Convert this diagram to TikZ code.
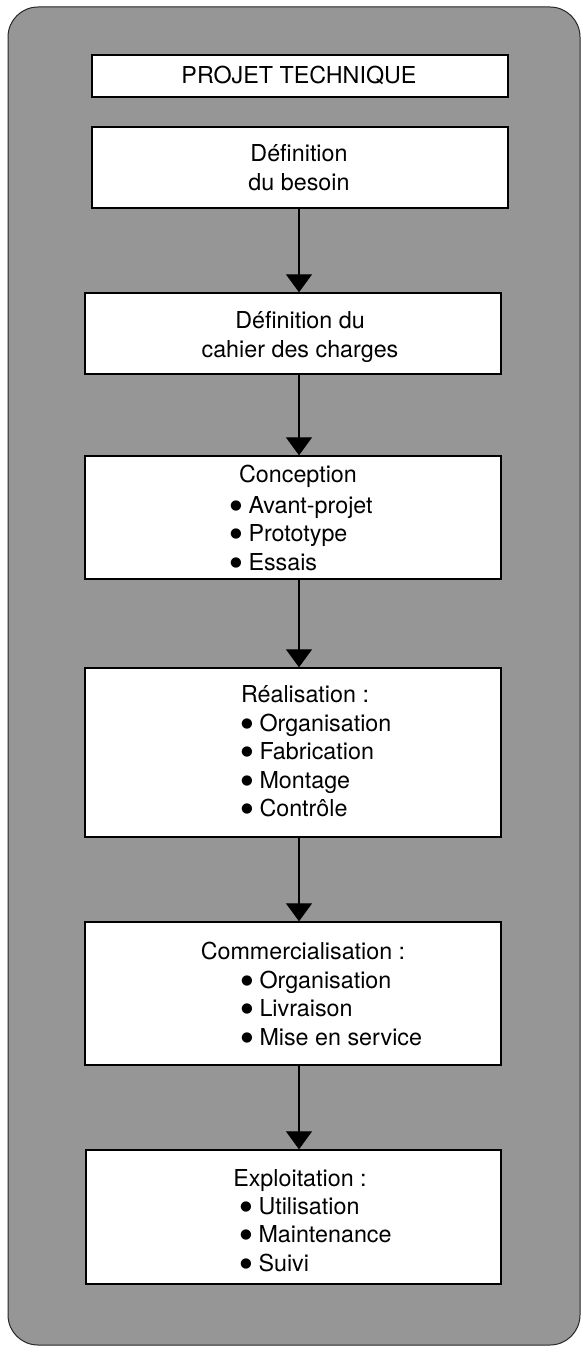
\documentclass[tikz,border=0pt]{standalone}
\usepackage{fontspec}
\setmainfont{TeX Gyre Heros}
\newfontfamily\symfont{DejaVu Sans}
\newcommand{\itembul}{\raisebox{3.8pt}{\fontsize{13.5}{13.5}\symfont ●}\hspace{0.28em}}
\usetikzlibrary{arrows.meta}
\definecolor{panelgray}{RGB}{150,150,150}
\begin{document}
\begin{tikzpicture}[x=1pt,y=-1pt,
  panel/.style={fill=panelgray, draw=black!85, line width=1pt, rounded corners=30pt},
  box/.style={draw=black, line width=1.4pt, fill=white, inner sep=0pt},
  txt/.style={font=\fontsize{23.3}{28.5}\selectfont, inner sep=0pt},
  arr/.style={line width=1.3pt, -{Triangle[length=18pt,width=26pt]}}]
\useasboundingbox (0,0) rectangle (585,1346);
\draw[panel] (8,7) rectangle (580,1345);
% boxes
\node[box, minimum width=416pt, minimum height=42pt]  (b1) at (300,76) {};
\node[box, minimum width=416pt, minimum height=81pt]  (b2) at (300,167.5) {};
\node[box, minimum width=416pt, minimum height=81pt]  (b3) at (293,333.5) {};
\node[box, minimum width=416pt, minimum height=123pt] (b4) at (293,517.5) {};
\node[box, minimum width=416pt, minimum height=169pt] (b5) at (293,752.5) {};
\node[box, minimum width=416pt, minimum height=143pt] (b6) at (293,993.5) {};
\node[box, minimum width=415pt, minimum height=134pt] (b7) at (293.5,1217) {};
% texts
\node[txt, anchor=base] (t1) at (299,84) {PROJET TECHNIQUE};
\node[txt, anchor=base, align=center] (t2) at (299,190) {Définition\\du besoin};
\node[txt, anchor=base, align=center] (t3) at (300,357) {Définition du\\cahier des charges};
\node[txt, anchor=base] (h4) at (298,482) {Conception};
\node[txt, anchor=base west] (l4) at (230,513) {\begin{tabular}[t]{@{}l@{}}\itembul Avant-projet\\\itembul Prototype\\\itembul Essais\end{tabular}};
\node[txt, anchor=base] (h5) at (305,702) {Réalisation :};
\node[txt, anchor=base west] (l5) at (241,731) {\begin{tabular}[t]{@{}l@{}}\itembul Organisation\\\itembul Fabrication\\\itembul Montage\\\itembul Contrôle\end{tabular}};
\node[txt, anchor=base] (h6) at (303,959) {Commercialisation :};
\node[txt, anchor=base west] (l6) at (241,988) {\begin{tabular}[t]{@{}l@{}}\itembul Organisation\\\itembul Livraison\\\itembul Mise en service\end{tabular}};
\node[txt, anchor=base] (h7) at (300,1186) {Exploitation :};
\node[txt, anchor=base west] (l7) at (240,1214) {\begin{tabular}[t]{@{}l@{}}\itembul Utilisation\\\itembul Maintenance\\\itembul Suivi\end{tabular}};
% connectors
\coordinate (ax) at (299,0);
\draw[arr] (b2.south -| ax) -- (b3.north -| ax);
\draw[arr] (b3.south -| ax) -- (b4.north -| ax);
\draw[arr] (b4.south -| ax) -- (b5.north -| ax);
\draw[arr] (b5.south -| ax) -- (b6.north -| ax);
\draw[arr] (b6.south -| ax) -- (b7.north -| ax);
\end{tikzpicture}
\end{document}
